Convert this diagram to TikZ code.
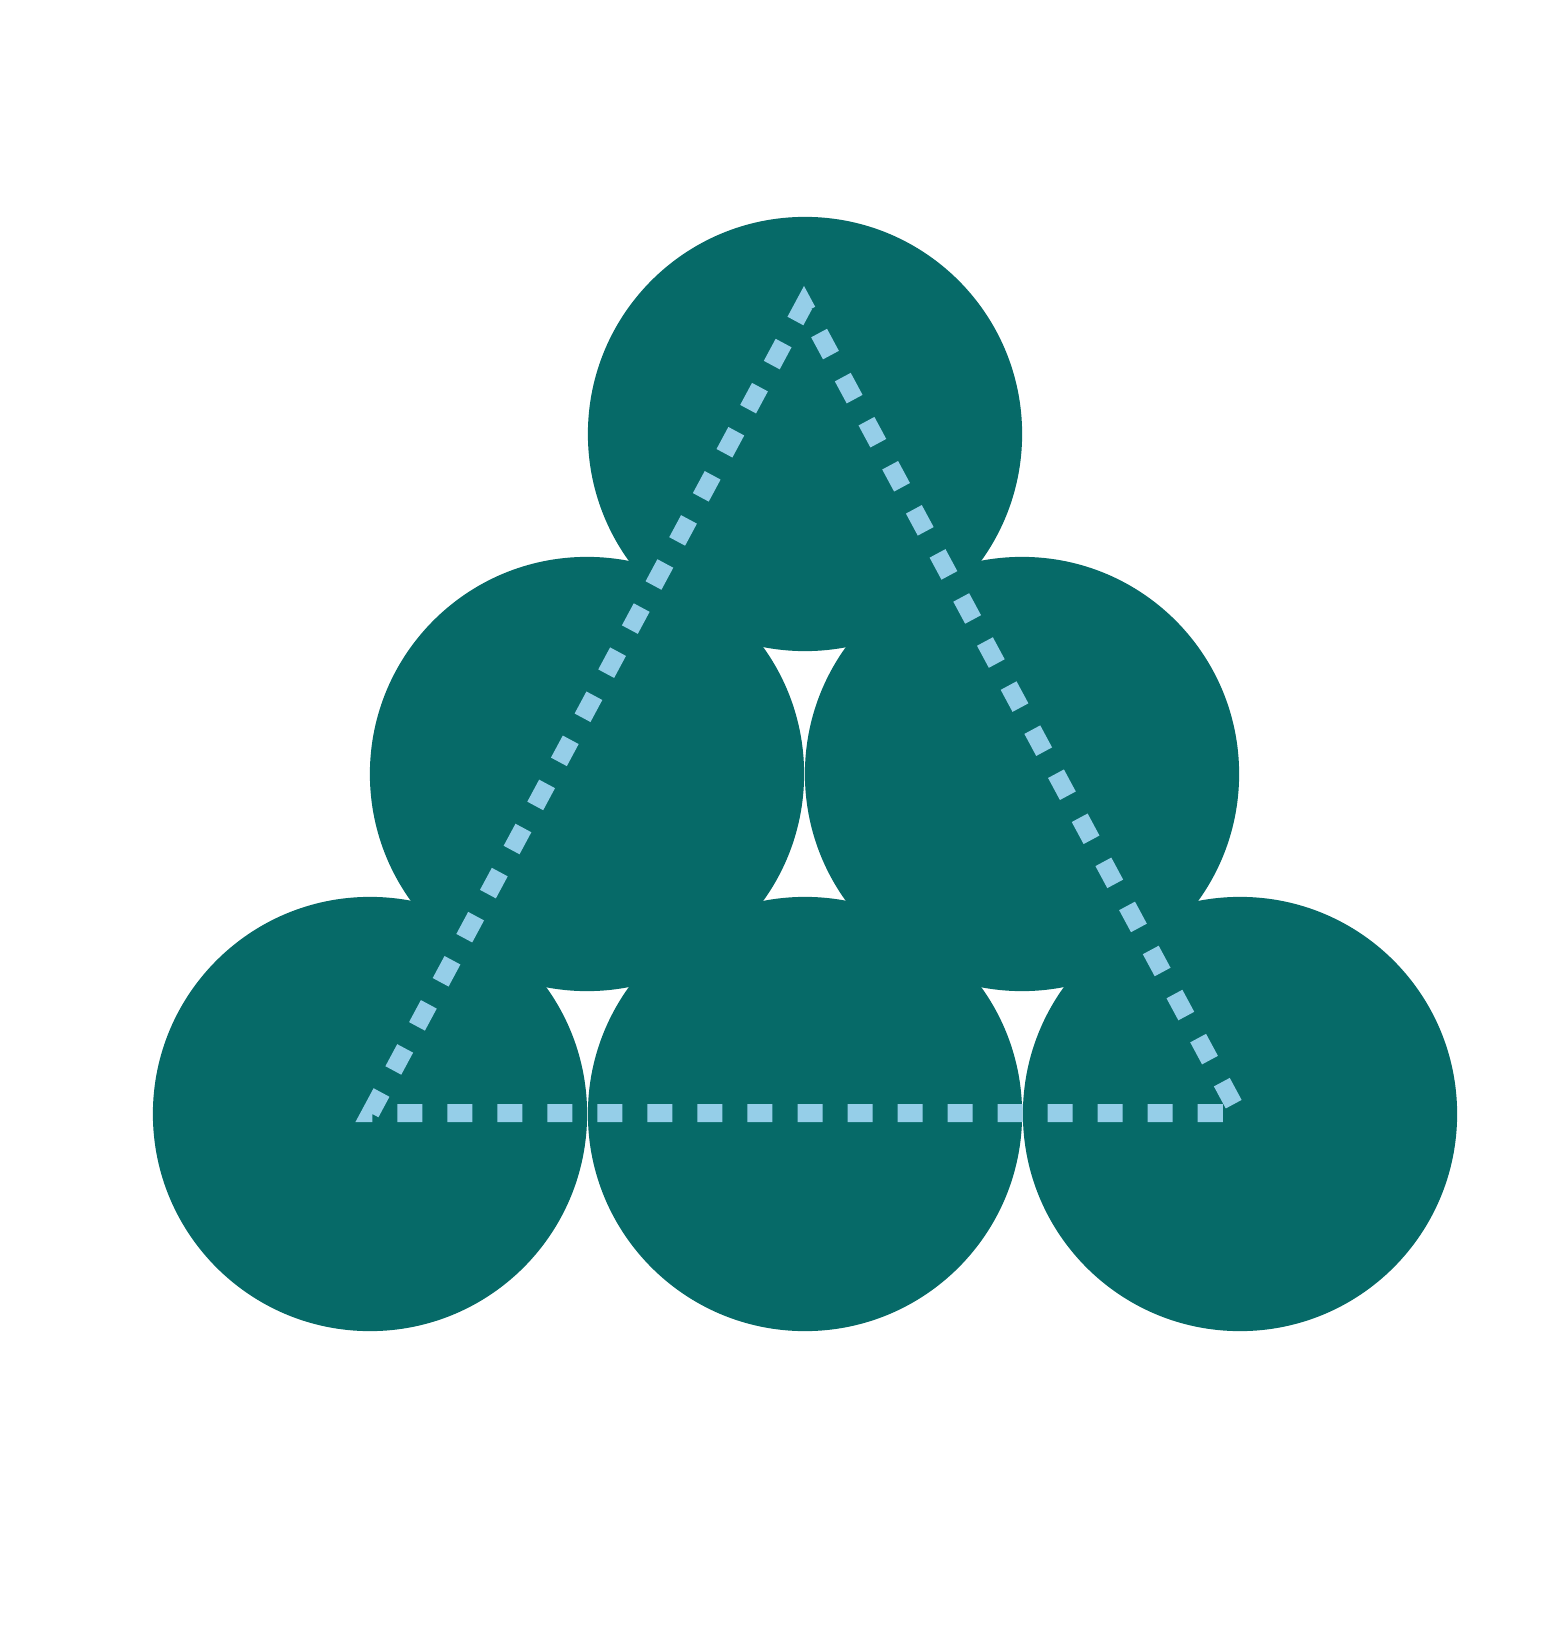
\documentclass[tikz,border=0pt]{standalone}
\usepackage{tikz}
\usetikzlibrary{positioning}
\definecolor{discteal}{HTML}{066A68}
\definecolor{dashblue}{HTML}{95CEE8}
\begin{document}
\begin{tikzpicture}[x=0.01cm,y=-0.01cm,
                disc/.style={circle,fill=discteal,inner sep=0pt,minimum size=4.34cm},
                tri/.style={draw=dashblue,line width=0.18cm,dash pattern=on 0.25cm off 0.25cm,dash phase=0.40cm}]
                \useasboundingbox (0,0) rectangle (1566,1625);
                % bottom row
                \node [disc] (b1) at (370,1114) {};
                \node [disc] (b2) at (805,1114) {};
                \node [disc] (b3) at (1240,1114) {};
                % middle row
                \node [disc] (m1) at (587,774) {};
                \node [disc] (m2) at (1022,774) {};
                % top
                \node [disc] (t1) at (805,434) {};
                % triangle
                \coordinate (apex) at (804,305);
                \coordinate (left) at (370.5,1113);
                \coordinate (right) at (1238.4,1113);
                \draw [tri] (right) -- (apex) -- (left) -- cycle;
\end{tikzpicture}
\end{document}
